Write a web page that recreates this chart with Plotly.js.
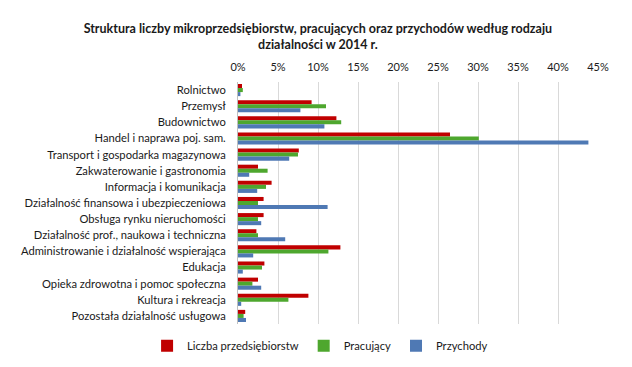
<!DOCTYPE html>
<html><head><meta charset="utf-8">
<script src="https://cdn.plot.ly/plotly-3.0.1.min.js"></script>
<style>body{margin:0;background:#fff}#chart{width:632px;height:367px}</style>
</head><body><div id="chart"></div>
<script>
const categories = ["Rolnictwo","Przemysł","Budownictwo","Handel i naprawa poj. sam.","Transport i gospodarka magazynowa","Zakwaterowanie i gastronomia","Informacja i komunikacja","Działalność finansowa i ubezpieczeniowa","Obsługa rynku nieruchomości","Działalność prof., naukowa i techniczna","Administrowanie i działalność wspierająca","Edukacja","Opieka zdrowotna i pomoc społeczna","Kultura i rekreacja","Pozostała działalność usługowa"];
const liczba =     [0.5, 9.2, 12.3, 26.5, 7.6, 2.5, 4.2, 3.2, 3.2, 2.3, 12.8, 3.3, 2.5, 8.8, 0.9];
const pracujacy =  [0.6, 11.0, 12.9, 30.1, 7.5, 3.7, 3.5, 2.5, 2.5, 2.5, 11.3, 3.0, 1.8, 6.3, 0.7];
const przychody =  [0.3, 7.8, 10.8, 43.8, 6.4, 1.4, 2.4, 11.2, 2.9, 5.9, 1.9, 0.6, 2.9, 0.4, 1.0];
const seriesNames = ["Liczba przedsiębiorstw","Pracujący","Przychody"];
const colors = ["#c00000","#4ea72e","#4f79b4"];
const data = [liczba, pracujacy, przychody].map((v,i)=>({
  type:'bar', orientation:'h', y:categories, x:v, name:seriesNames[i],
  marker:{color:colors[i]}, hoverinfo:'x+name'
}));
const font = "Lato, 'Open Sans', sans-serif";
const layout = {
  width:632, height:367,
  margin:{l:238,r:34,t:82,b:43, autoexpand:false},
  paper_bgcolor:'#fff', plot_bgcolor:'#fff',
  font:{family:font, size:11.2, color:'#1a1a1a'},
  title:{text:"<b>Struktura liczby mikroprzedsiębiorstw, pracujących oraz przychodów według rodzaju<br>działalności w 2014 r.</b>",
    font:{family:font,size:12.5,color:'#1a1a1a'}, x:0.503, xanchor:'center', y:0.91, yanchor:'middle'},
  barmode:'group', bargap:0.25, bargroupgap:0,
  xaxis:{side:'top', range:[0,45], dtick:5, ticksuffix:'%', showgrid:true, gridcolor:'#d9d9d9', gridwidth:1, zeroline:false, ticks:'', tickfont:{size:11}, ticklabelstandoff:8, automargin:false},
  yaxis:{autorange:'reversed', showline:true, linecolor:'#bfbfbf', ticks:'', tickfont:{size:11.2}, ticklabelstandoff:9, automargin:false},
  legend:{orientation:'h', x:0.228, xanchor:'center', y:-0.09, yanchor:'middle', font:{size:11.2}, traceorder:'normal', itemwidth:30},
  showlegend:true
};
Plotly.newPlot('chart', data, layout, {displayModeBar:false, staticPlot:true});
</script></body></html>
